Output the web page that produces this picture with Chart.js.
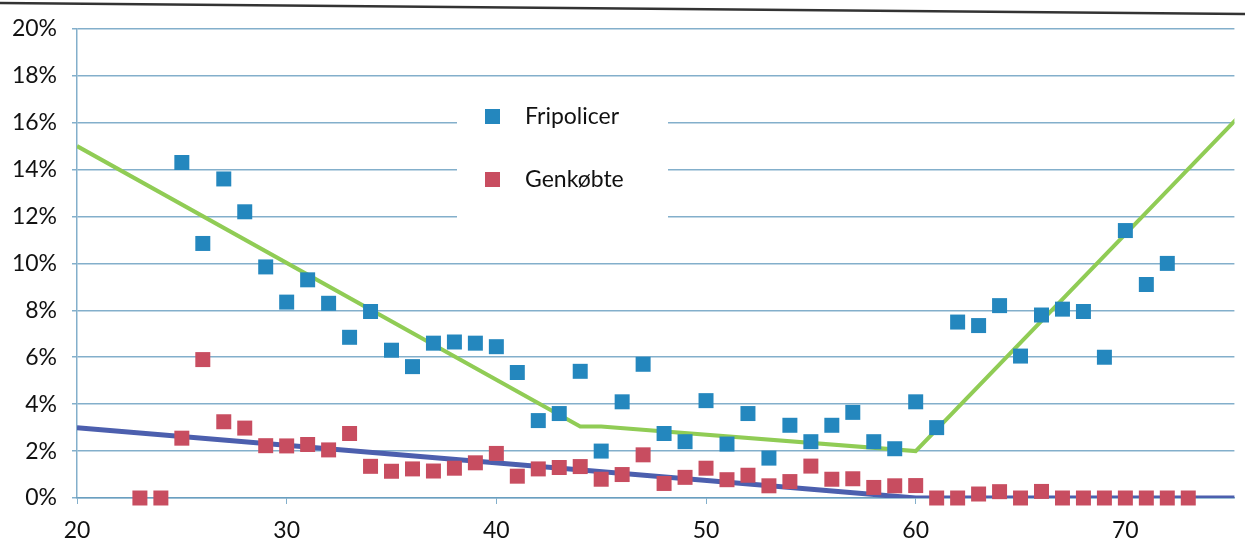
<!DOCTYPE html>
<html>
<head>
<meta charset="utf-8">
<script src="https://cdn.jsdelivr.net/npm/chart.js@4/dist/chart.umd.min.js"></script>
<style>
html, body { margin: 0; padding: 0; background: #fff; }
#wrap { width: 1245px; height: 545px; }
</style>
</head>
<body>
<div id="wrap"><canvas id="myChart" width="1245" height="545"></canvas></div>
<script>
// ages (x) and share in percent (y)
var fripAges = [25,26,27,28,29,30,31,32,33,34,35,36,37,38,39,40,41,42,43,44,45,46,47,48,
                49,50,51,52,53,54,55,56,57,58,59,60,61,62,63,64,65,66,67,68,69,70,71,72];
var fripValues = [14.3,10.85,13.6,12.2,9.85,8.35,9.3,8.3,6.85,7.95,6.3,5.6,6.6,6.65,6.6,6.45,5.35,3.3,3.6,5.4,2.0,4.1,5.7,2.75,
                  2.4,4.15,2.3,3.6,1.7,3.1,2.4,3.1,3.65,2.4,2.1,4.1,3.0,7.5,7.35,8.2,6.05,7.8,8.05,7.95,6.0,11.4,9.1,10.0];

var genkAges = [23,24,25,26,27,28,29,30,31,32,33,34,35,36,37,38,39,40,41,42,43,44,45,46,47,48,
                49,50,51,52,53,54,55,56,57,58,59,60,61,62,63,64,65,66,67,68,69,70,71,72,73];
var genkValues = [0,0,2.55,5.9,3.25,2.98,2.23,2.22,2.28,2.05,2.75,1.35,1.14,1.24,1.15,1.27,1.5,1.9,0.93,1.24,1.3,1.34,0.8,1.0,1.84,0.62,
                  0.88,1.27,0.78,0.97,0.52,0.7,1.36,0.8,0.82,0.45,0.52,0.53,0,0,0.17,0.27,0,0.28,0,0,0,0,0,0,0];

// fitted curves
var fripFitAges = [20,44,45,60,76];
var fripFitValues = [15.0,3.05,3.05,2.0,16.8];
var genkFitAges = [20,60,76];
var genkFitValues = [3.0,0,0];

var seriesNames = ["Fripolicer","Genkøbte"];
var xTicks = [20,30,40,50,60,70];
var yTicks = [0,2,4,6,8,10,12,14,16,18,20];

var blue = '#2487be';
var red = '#c84d60';
var green = '#90cc55';
var navy = '#4c5fae';
var gridColor = 'rgba(100,155,190,0.8)';

function pairs(xs, ys){
    return xs.map(function(x, i){ return {x: x, y: ys[i]}; });
}

var legendBox = {
    id: 'legendBox',
    afterDraw: function(chart){
        var ctx = chart.ctx;
        ctx.save();
        ctx.fillStyle = '#fff';
        ctx.fillRect(457, 95, 211, 134);
        var cols = [blue, red];
        var ys = [116, 179];
        ctx.font = '23px Lato';
        ctx.textBaseline = 'middle';
        for (var i = 0; i < seriesNames.length; i++){
            ctx.fillStyle = cols[i];
            ctx.fillRect(485, ys[i] - 7, 15, 15);
            ctx.fillStyle = '#111';
            ctx.fillText(seriesNames[i], 525, ys[i] + 1);
        }
        // frame line of the scanned page
        ctx.strokeStyle = '#333';
        ctx.lineWidth = 2.5;
        ctx.beginPath();
        ctx.moveTo(0, 3);
        ctx.lineTo(1245, 14);
        ctx.stroke();
        ctx.restore();
    }
};

var ctx = document.getElementById('myChart').getContext('2d');
var myChart = new Chart(ctx, {
    type: 'scatter',
    data: {
        datasets: [{
            label: seriesNames[0],
            data: pairs(fripAges, fripValues),
            backgroundColor: blue,
            pointStyle: 'rect',
            pointRadius: 10.6,
            pointBorderWidth: 0,
            clip: false,
            order: 0
        }, {
            label: seriesNames[1],
            data: pairs(genkAges, genkValues),
            backgroundColor: red,
            pointStyle: 'rect',
            pointRadius: 10.6,
            pointBorderWidth: 0,
            clip: false,
            order: 0
        }, {
            label: 'fit1',
            data: pairs(fripFitAges, fripFitValues),
            showLine: true,
            borderColor: green,
            borderWidth: 4,
            pointRadius: 0,
            order: 1
        }, {
            label: 'fit2',
            data: pairs(genkFitAges, genkFitValues),
            showLine: true,
            borderColor: navy,
            borderWidth: 5,
            pointRadius: 0,
            order: 1
        }]
    },
    options: {
        responsive: false,
        animation: false,
        devicePixelRatio: 1,
        layout: { padding: { top: 23, right: 0, left: 0, bottom: 0 } },
        plugins: {
            legend: { display: false },
            tooltip: { enabled: false }
        },
        scales: {
            x: {
                type: 'linear',
                min: 20,
                max: 75.2,
                afterFit: function(scale){ scale.height = 47; },
                afterBuildTicks: function(scale){
                    scale.ticks = xTicks.map(function(v){ return {value: v}; });
                },
                grid: { drawOnChartArea: false, color: gridColor, tickLength: 6 },
                border: { color: gridColor, width: 1.5 },
                ticks: {
                    color: '#111',
                    font: { family: 'Lato', size: 23 },
                    padding: 13,
                    maxRotation: 0
                }
            },
            y: {
                min: 0,
                max: 20,
                afterFit: function(scale){ scale.width = 77; },
                afterBuildTicks: function(scale){
                    scale.ticks = yTicks.map(function(v){ return {value: v}; });
                },
                grid: { color: gridColor, lineWidth: 1.5, tickLength: 5 },
                border: { color: gridColor, width: 1.5 },
                ticks: {
                    color: '#111',
                    font: { family: 'Lato', size: 23 },
                    padding: 15,
                    callback: function(v){ return v + '%'; }
                }
            }
        }
    },
    plugins: [legendBox]
});
</script>
</body>
</html>
